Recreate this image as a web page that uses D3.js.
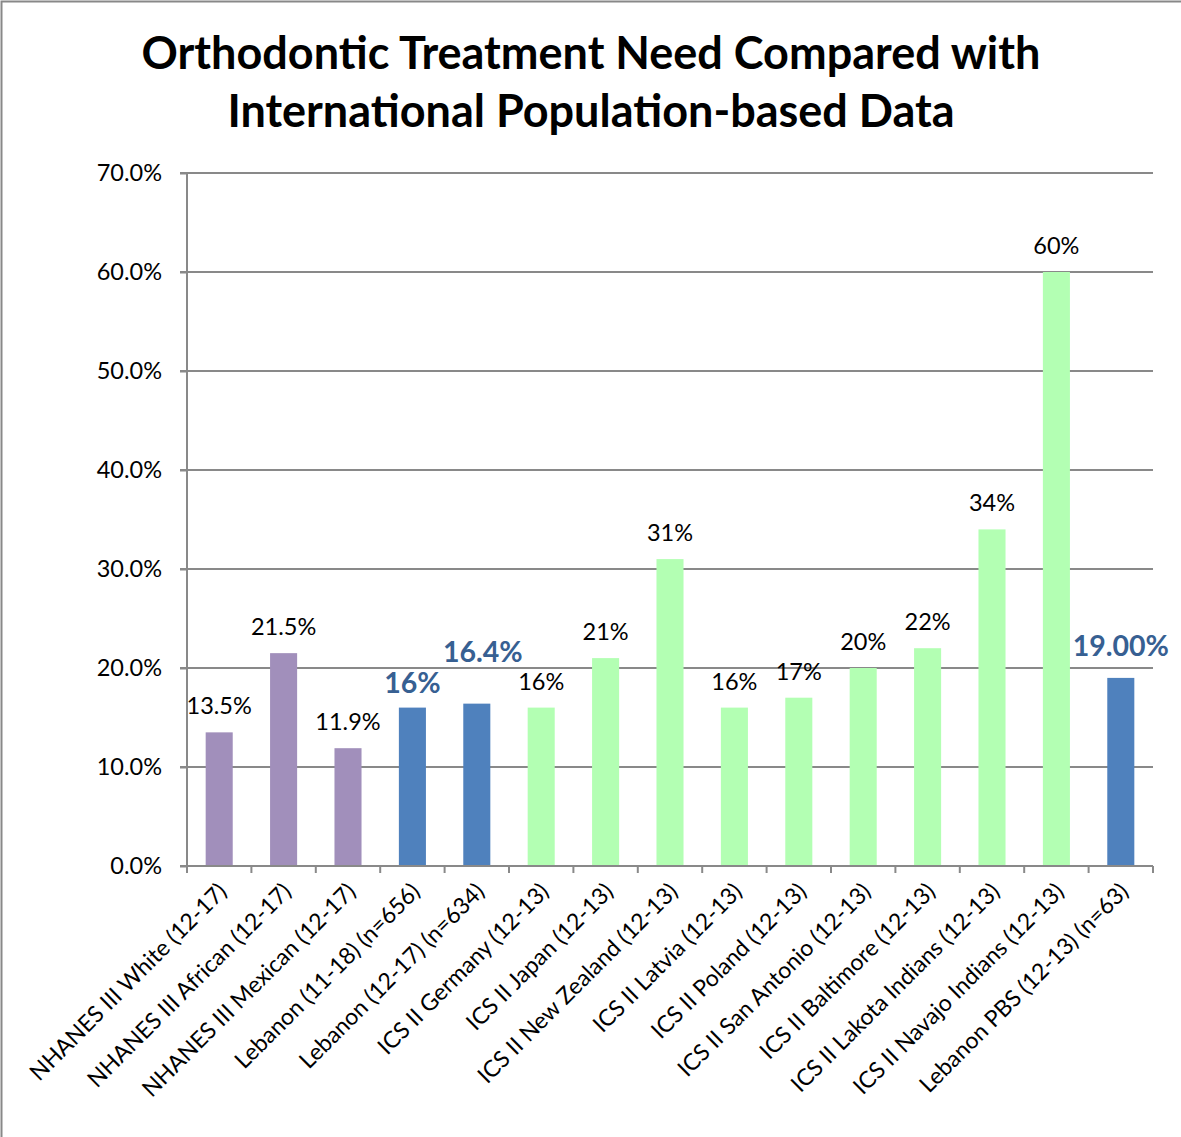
<!DOCTYPE html>
<html><head><meta charset="utf-8">
<script src="https://cdn.jsdelivr.net/npm/d3@7"></script>
<style>body{margin:0;background:#fff}svg{display:block}</style>
</head><body>
<script>
const categories = ["NHANES III White (12-17)","NHANES III African (12-17)","NHANES III Mexican (12-17)","Lebanon (11-18) (n=656)","Lebanon (12-17) (n=634)","ICS II Germany (12-13)","ICS II Japan (12-13)","ICS II New Zealand (12-13)","ICS II Latvia (12-13)","ICS II Poland (12-13)","ICS II San Antonio (12-13)","ICS II Baltimore (12-13)","ICS II Lakota Indians (12-13)","ICS II Navajo Indians (12-13)","Lebanon PBS (12-13) (n=63)"];
const values = [13.5,21.5,11.9,16,16.4,16,21,31,16,17,20,22,34,60,19];
const valueLabels = ["13.5%","21.5%","11.9%","16%","16.4%","16%","21%","31%","16%","17%","20%","22%","34%","60%","19.00%"];
const groups = ["NHANES","NHANES","NHANES","Lebanon","Lebanon","ICS","ICS","ICS","ICS","ICS","ICS","ICS","ICS","ICS","Lebanon"];
const yTicks = [0,10,20,30,40,50,60,70];
const title = ["Orthodontic Treatment Need Compared with","International Population-based Data"];

const W=1181,H=1137;
const font="Lato, 'Open Sans', sans-serif";
const color = d3.scaleOrdinal().domain(["NHANES","Lebanon","ICS"]).range(["#A18FBB","#4F81BD","#B3FFB3"]);
const svg=d3.select("body").append("svg").attr("width",W).attr("height",H);
svg.append("rect").attr("x",1.5).attr("y",1.5).attr("width",W+10).attr("height",H+10).attr("fill","#fff").attr("stroke","#888").attr("stroke-width",2);

svg.append("g").selectAll("text").data(title).join("text")
  .attr("x",591).attr("y",(d,i)=>69+i*58).attr("text-anchor","middle")
  .attr("font-family",font).attr("font-weight","bold").attr("font-size",45).text(d=>d);

const x=d3.scaleBand().domain(categories).range([187,1153]).paddingInner(0.58).paddingOuter(0.29);
const y=d3.scaleLinear().domain([0,70]).range([866,173]);

svg.append("g").selectAll("line").data(yTicks.slice(1)).join("line")
  .attr("x1",180).attr("x2",1153).attr("y1",d=>y(d)).attr("y2",d=>y(d))
  .attr("stroke","#898989").attr("stroke-width",2);

svg.append("g").selectAll("rect").data(values).join("rect")
  .attr("x",(d,i)=>x(categories[i])).attr("width",x.bandwidth())
  .attr("y",d=>y(d)).attr("height",d=>y(0)-y(d))
  .attr("fill",(d,i)=>color(groups[i]));

const ya=svg.append("g").attr("transform","translate(187,0)")
  .call(d3.axisLeft(y).tickValues(yTicks).tickSize(7).tickPadding(18).tickFormat(d=>d.toFixed(1)+"%"));
ya.select(".domain").attr("stroke","#898989").attr("stroke-width",2).attr("d","M0,"+y(70)+"V"+y(0));
ya.selectAll(".tick line").attr("stroke","#898989").attr("stroke-width",2);
ya.selectAll(".tick text").attr("font-family",font).attr("font-size",23.5).attr("fill","#000");

const xb=d3.scaleLinear().domain([0,categories.length]).range([187,1153]);
const xa=svg.append("g");
xa.append("line").attr("x1",180).attr("x2",1153).attr("y1",866).attr("y2",866).attr("stroke","#898989").attr("stroke-width",2);
xa.selectAll("line.t").data(d3.range(categories.length+1)).join("line").attr("class","t")
  .attr("x1",d=>xb(d)).attr("x2",d=>xb(d)).attr("y1",866).attr("y2",873).attr("stroke","#898989").attr("stroke-width",2);
xa.selectAll("text").data(categories).join("text")
  .attr("transform",d=>`translate(${x(d)+x.bandwidth()/2+9},${893}) rotate(-45)`)
  .attr("text-anchor","end").attr("font-family",font).attr("font-size",23).attr("fill","#000").text(d=>d);

const lift = i => (i===4 ? 42 : groups[i]==="Lebanon" ? (i===14?22:15) : 18);
svg.append("g").selectAll("text").data(values).join("text")
  .attr("x",(d,i)=>x(categories[i])+x.bandwidth()/2+(i===4?6:0))
  .attr("y",(d,i)=>y(d)-lift(i))
  .attr("text-anchor","middle").attr("font-family",font)
  .attr("font-size",(d,i)=>groups[i]==="Lebanon"?28.5:23.5)
  .attr("font-weight",(d,i)=>groups[i]==="Lebanon"?"bold":"normal")
  .attr("fill",(d,i)=>groups[i]==="Lebanon"?"#376092":"#000")
  .text((d,i)=>valueLabels[i]);
</script>
</body></html>
